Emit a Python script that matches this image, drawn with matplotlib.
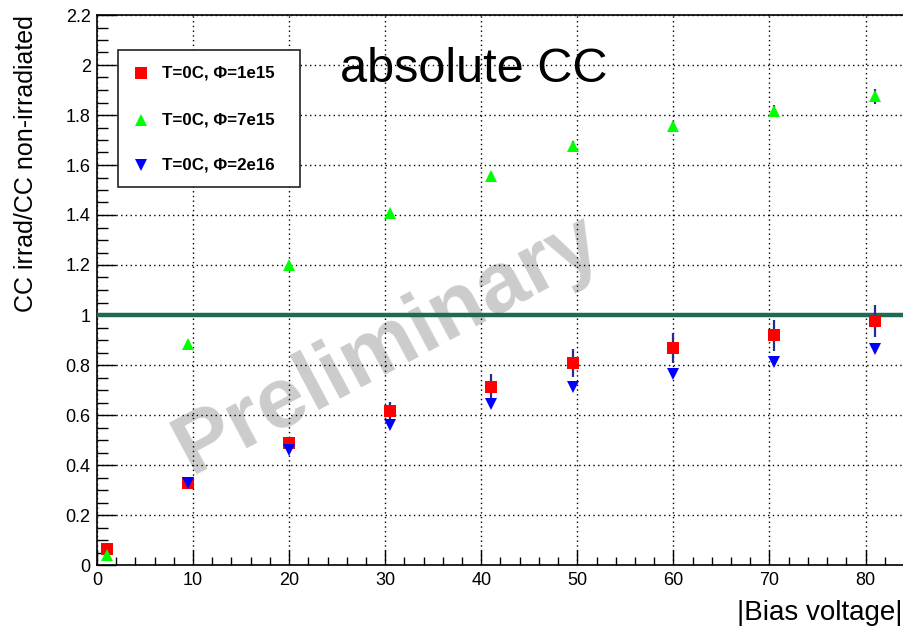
import matplotlib
matplotlib.use("Agg")
import matplotlib.pyplot as plt
from matplotlib.patches import Rectangle
from matplotlib.lines import Line2D
import numpy as np

plt.rcParams['font.family'] = ['Liberation Sans', 'DejaVu Sans']

# bias voltage points (same for all three sets)
bias = [1.0, 9.5, 20.0, 30.5, 41.0, 49.5, 60.0, 70.5, 81.0]

# T=0C, Phi=1e15
cc_1e15 = [0.064, 0.328, 0.488, 0.616, 0.714, 0.808, 0.869, 0.919, 0.977]
err_1e15 = [0.005, 0.015, 0.025, 0.035, 0.052, 0.057, 0.060, 0.062, 0.063]
# T=0C, Phi=7e15
cc_7e15 = [0.040, 0.884, 1.200, 1.410, 1.556, 1.676, 1.756, 1.816, 1.876]
err_7e15 = [0.0, 0.005, 0.01, 0.012, 0.015, 0.02, 0.022, 0.025, 0.03]
# T=0C, Phi=2e16
cc_2e16 = [0.055, 0.330, 0.460, 0.560, 0.644, 0.712, 0.764, 0.813, 0.863]

labels = ['T=0C, \u03a6=1e15', 'T=0C, \u03a6=7e15', 'T=0C, \u03a6=2e16']

W, H = 904, 627
fig = plt.figure(figsize=(W / 100, H / 100), dpi=100)
ax = fig.add_axes([97 / W, (H - 565) / H, (W - 97) / W, 550 / H])

ax.set_xlim(0, 84)
ax.set_ylim(0, 2.2)
ax.set_xticks(np.arange(0, 81, 10))
ax.set_xticks(np.arange(0, 84.1, 2), minor=True)
ax.set_yticks(np.arange(0, 2.21, 0.2))
ax.set_yticks(np.arange(0, 2.21, 0.05), minor=True)
ax.set_yticklabels(['0', '0.2', '0.4', '0.6', '0.8', '1', '1.2', '1.4', '1.6', '1.8', '2', '2.2'])

ax.tick_params(axis='both', which='both', direction='in', top=False, right=False, labelsize=13)
ax.tick_params(axis='y', which='major', length=13.5, width=1, pad=4.5)
ax.tick_params(axis='y', which='minor', length=8, width=1)
ax.tick_params(axis='x', which='major', length=11, width=1, pad=5)
ax.tick_params(axis='x', which='minor', length=5.5, width=1)
ax.spines['right'].set_visible(False)
for s in ['left', 'bottom', 'top']:
    ax.spines[s].set_linewidth(1.2)

ax.grid(True, which='major', color='black', linestyle=(0, (1, 2.4)), linewidth=1.0)

# watermark
ax.text(0.36, 0.40, 'Preliminary', transform=ax.transAxes, fontsize=62, fontweight='bold',
        color='#cccccc', rotation=28, ha='center', va='center', rotation_mode='anchor', zorder=1)

ax.axhline(1.0, color='#1f6a55', linewidth=3.2, zorder=3)

ax.errorbar(bias, cc_1e15, yerr=err_1e15, fmt='none', ecolor='#2a2a90', elinewidth=1.6, capsize=0, zorder=4)
ax.errorbar(bias, cc_7e15, yerr=err_7e15, fmt='none', ecolor='#2a2a90', elinewidth=1.6, capsize=0, zorder=4)
ax.plot(bias, cc_2e16, linestyle='none', marker='v', color='#0000ff', markersize=8, markeredgewidth=0, zorder=5)
ax.plot(bias[1:], cc_1e15[1:], linestyle='none', marker='s', color='#ff0000', markersize=8.6, markeredgewidth=0, zorder=4.5)
ax.plot(bias[:1], cc_1e15[:1], linestyle='none', marker='s', color='#ff0000', markersize=8.6, markeredgewidth=0, zorder=6)
ax.plot(bias, cc_7e15, linestyle='none', marker='^', color='#00ff00', markersize=9.2, markeredgewidth=0, zorder=7)

ax.text(474 / 807 - 97 / 807, 1 - (81.7 - 15) / 550, 'absolute CC', transform=ax.transAxes,
        fontsize=35, ha='center', va='baseline', zorder=8)

# legend box drawn by hand, ROOT style
fig.add_artist(Rectangle((118 / W, 1 - 187 / H), 182 / W, 137 / H, transform=fig.transFigure,
                         facecolor='white', edgecolor='#222222', linewidth=1.2, zorder=10))
rows = [73.3, 120.0, 165.0]
styles = [('s', '#ff0000', 8.6), ('^', '#00ff00', 9.2), ('v', '#0000ff', 8)]
for yrow, (mk, col, ms), lab in zip(rows, styles, labels):
    fig.add_artist(Line2D([141 / W], [1 - yrow / H], transform=fig.transFigure, marker=mk,
                          color=col, markersize=ms, markeredgewidth=0, linestyle='none', zorder=11))
    fig.text(162 / W, 1 - yrow / H, lab, fontsize=12.2, fontweight='bold', ha='left', va='center', zorder=11)

fig.text(33 / W, 1 - 15 / H, 'CC irrad/CC non-irradiated', fontsize=18, rotation=90,
         ha='right', va='baseline', rotation_mode='anchor')
fig.text(1 - 1 / W, 1 - 620 / H, '|Bias voltage|', fontsize=20, ha='right', va='baseline')

fig.savefig('out.png', dpi=100)
